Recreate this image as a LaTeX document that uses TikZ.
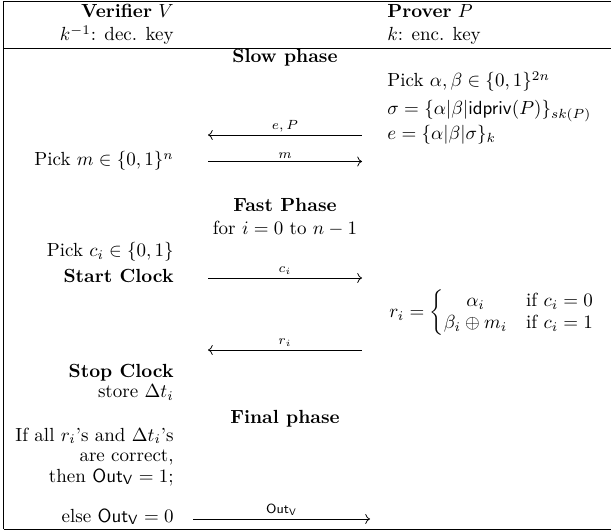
\documentclass[tikz,border=0pt]{standalone}
\usepackage{amsmath, amssymb}
\usepackage{tikz}
\usetikzlibrary{arrows.meta}

\begin{document}
\begin{tikzpicture}[x=0.5263pt, y=-0.5263pt,
    lcol/.style={anchor=base east, inner sep=0pt},
    rcol/.style={anchor=base west, inner sep=0pt},
    phase/.style={anchor=base, inner sep=0pt, font=\bfseries},
    msg/.style={above, inner sep=1.5pt, font=\scriptsize}]
    \useasboundingbox (0,0) rectangle (611,531);

    % Frame and header rule
    \draw (3.5,1.5) -- (611,1.5);
    \draw (3.5,1.5) -- (3.5,529);
    \draw (3.5,48) -- (611,48);
    \draw (3.5,529) -- (611,529);

    % Header: both parties
    \node[lcol] (verif) at (174,18) {\textbf{Verifier} $V$};
    \node[lcol] (deckey) at (174,41) {$k^{-1}$: dec. key};
    \node[rcol] (prover) at (387,18) {\textbf{Prover} $P$};
    \node[rcol] (enckey) at (387,41) {$k$: enc. key};

    % Slow phase
    \node[phase] (slow) at (285,63) {Slow phase};
    \node[rcol] (pickab) at (387,87) {Pick $\alpha,\beta \in \{0,1\}^{2n}$};
    \node[rcol] (sigma) at (387,115) {$\sigma = \{\alpha|\beta|\mathsf{idpriv}(P)\}_{sk(P)}$};
    \node[rcol] (enc) at (387,140) {$e = \{\alpha|\beta|\sigma\}_k$};
    \node[lcol] (pickm) at (174,166) {Pick $m \in \{0,1\}^n$};
    \coordinate (epV) at (208,135);
    \coordinate (epP) at (362,135);
    \draw[<-] (epV) -- node[msg] {$e,P$} (epP);
    \coordinate (mV) at (208,161.5);
    \coordinate (mP) at (362,161.5);
    \draw[->] (mV) -- node[msg] {$m$} (mP);

    % Fast phase
    \node[phase] (fast) at (285,212) {Fast Phase};
    \node[anchor=base, inner sep=0pt] (loop) at (285,235) {for $i=0$ to $n-1$};
    \node[lcol] (pickc) at (174,257) {Pick $c_i \in \{0,1\}$};
    \node[lcol] (start) at (174,283) {\textbf{Start Clock}};
    \node[anchor=west, inner sep=0pt] (resp) at (389,313)
        {$r_i = \left\{\begin{array}{@{}c@{\quad}l@{}}
            \alpha_i & \text{if } c_i = 0\\
            \beta_i \oplus m_i & \text{if } c_i = 1
          \end{array}\right.$};
    \coordinate (cV) at (208,278);
    \coordinate (cP) at (362,278);
    \draw[->] (cV) -- node[msg] {$c_i$} (cP);
    \coordinate (rV) at (208,350);
    \coordinate (rP) at (362,350);
    \draw[<-] (rV) -- node[msg] {$r_i$} (rP);
    \node[lcol] (stop) at (174,378) {\textbf{Stop Clock}};
    \node[lcol] (store) at (174,398) {store $\Delta t_i$};

    % Final phase
    \node[phase] (final) at (285,423) {Final phase};
    \node[lcol] (ifall) at (174,441) {If all $r_i$'s and $\Delta t_i$'s};
    \node[lcol] (correct) at (174,461) {are correct,};
    \node[lcol] (then) at (174,482) {then $\mathsf{Out}_{\mathsf{V}} = 1$;};
    \node[lcol] (else) at (174,522) {else $\mathsf{Out}_{\mathsf{V}} = 0$};
    \coordinate (oV) at (193,519);
    \coordinate (oP) at (370,519);
    \draw[->] (oV) -- node[msg] {$\mathsf{Out}_{\mathsf{V}}$} (oP);
\end{tikzpicture}
\end{document}
